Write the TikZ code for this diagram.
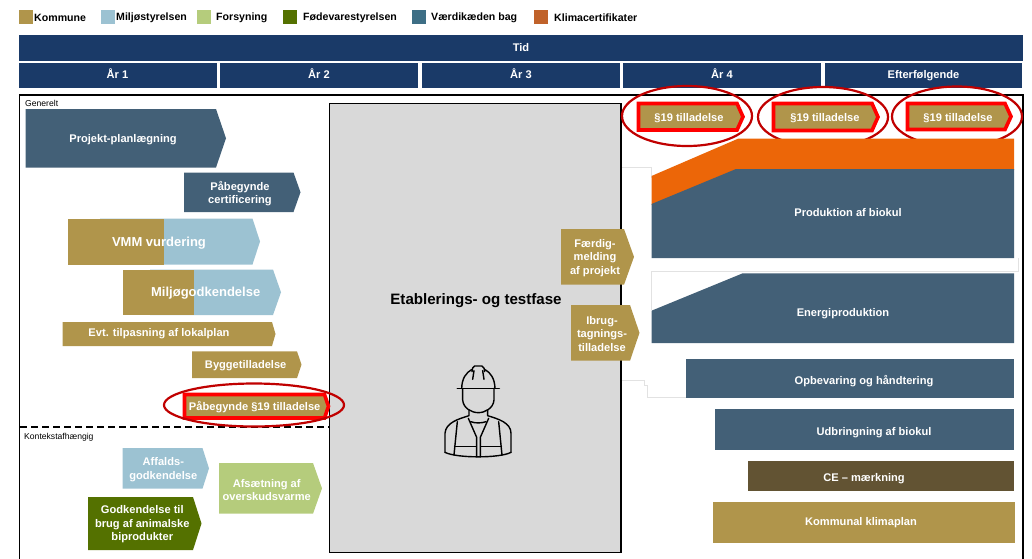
\documentclass[tikz,border=0pt]{standalone}
\usepackage{fontspec}
\setmainfont{Liberation Sans}

\definecolor{navy}{HTML}{1A3A68}
\definecolor{slate}{HTML}{436077}
\definecolor{gold}{HTML}{B0954B}
\definecolor{lightblue}{HTML}{9CC2D2}
\definecolor{lightgreen}{HTML}{B5CC7C}
\definecolor{darkgreen}{HTML}{547100}
\definecolor{teal}{HTML}{3D6E85}
\definecolor{rust}{HTML}{C0622A}
\definecolor{certorange}{HTML}{EC6608}
\definecolor{ceebrown}{HTML}{625333}
\definecolor{ringred}{HTML}{C00000}
\definecolor{faint}{HTML}{E2E2E2}

\tikzset{
  lbl/.style={text=white, font=\fontsize{11.1}{13.4}\selectfont\bfseries, align=center, inner sep=0pt, yshift=-1pt},
  yearlbl/.style={lbl, text height=8pt, text depth=2pt},
  biglbl/.style={lbl, font=\fontsize{13}{15}\selectfont\bfseries},
  smalllbl/.style={text=black, font=\fontsize{8.6}{10}\selectfont, inner sep=0pt, anchor=west},
  legendlbl/.style={text=black, font=\fontsize{10.6}{12}\selectfont\bfseries, inner sep=0pt, anchor=west},
  ring/.style={draw=ringred, line width=2.2pt},
  redline/.style={draw=red, line width=3.6pt, miter limit=3},
  worker/.style={draw=black, line width=1.4pt, line cap=round, line join=round},
}

% x1, x2 = body, #4 = tip, #5 and #6 = top and bottom
\newcommand{\arrowbox}[6]{
  \path[#1] (#2,#5) -- (#3,#5) -- (#4,{(#5+#6)/2}) -- (#3,#6) -- (#2,#6) -- cycle;
}

\begin{document}
\begin{tikzpicture}[x=1pt,y=-1pt]
  \useasboundingbox (0,0) rectangle (1032,558);

  % Legend
  \foreach \i/\col/\xa/\xb/\txt in {kommune/gold/19/34/Kommune, miljo/lightblue/101/116/Miljøstyrelsen,
    forsyning/lightgreen/197/216/Forsyning, fodevare/darkgreen/283/303/Fødevarestyrelsen,
    vaerdi/teal/412/431/Værdikæden bag, klima/rust/534/554/Klimacertifikater} {
    \fill[\col] (\xa,9.5) rectangle ++(14,14);
    \node[legendlbl] (leg\i) at (\xb,17.5) {\txt};
  }

  % Time bars
  \fill[navy] (19,35) rectangle (1023,60.5);
  \node[yearlbl] (tid) at (521,47.5) {Tid};
  \foreach \i/\xa/\xb/\txt in {1/18.5/216.5/År 1, 2/220/418/År 2, 3/422/620/År 3, 4/623/821/År 4, 5/825/1022/Efterfølgende} {
    \fill[navy] (\xa,62.5) rectangle (\xb,88);
    \node[yearlbl] (year\i) at ({(\xa+\xb)/2},74.8) {\txt};
  }

  % Faint lines
  \draw[faint, line width=0.7pt] (622,167) -- (651,167) -- (651,178);
  \draw[faint, line width=0.7pt] (651,310) -- (651,271.5) -- (1018,271.5) -- (1018,258);
  \draw[faint, line width=0.7pt] (622,380.3) -- (644,380.3) -- (644,385) -- (647.5,385) -- (647.5,397) -- (686,397);

  % Draw the box
  \draw[black, line width=1.8pt] (19.5,560) -- (19.5,95) -- (1023,95) -- (1023,560);
  \draw[black, line width=1.7pt, dash pattern=on 7pt off 4pt] (20,427) -- (329,427);
  \node[smalllbl] (generelt) at (25,103) {Generelt};
  \node[smalllbl] (kontekst) at (24,437) {Kontekstafhængig};

  % Middle phase
  \draw[black, line width=1.8pt, fill=black!15] (329.5,103.5) rectangle (621,552.5);
  \node[lbl, text=black, font=\fontsize{15.1}{18}\selectfont\bfseries] (fase) at (476,300) {Etablerings- og testfase};

  % Worker
  \begin{scope}[shift={(400,350)}, x=0.3333pt, y=-0.3333pt]
    \draw[worker] (172,115) -- (298,115);
    \draw[worker] (185,115) .. controls (186,85) and (198,68) .. (216,58);
    \draw[worker] (285,115) .. controls (284,85) and (272,68) .. (254,58);
    \draw[worker] (216,65) -- (218,54) -- (224,48) -- (246,48) -- (252,54) -- (254,65);
    \draw[worker] (222,62) -- (218,88);
    \draw[worker] (248,62) -- (252,88);
    \draw[worker] (188,115) -- (188,150) .. controls (190,175) and (215,188) .. (235,188) .. controls (255,188) and (280,175) .. (282,150) -- (282,115);
    \draw[worker] (207,180) -- (207,197) .. controls (175,207) and (137,218) .. (135,250) -- (135,307);
    \draw[worker] (263,180) -- (263,197) .. controls (295,207) and (333,218) .. (333,250) -- (333,307);
    \draw[worker] (135,307) .. controls (170,325) and (300,325) .. (333,307);
    \draw[worker] (172,215) -- (162,315);
    \draw[worker] (296,215) -- (306,315);
    \draw[worker] (205,205) -- (230,262) -- (230,320);
    \draw[worker] (266,205) -- (241,262) -- (241,320);
    \draw[worker] (212,215) .. controls (225,220) and (245,220) .. (258,215);
    \draw[worker] (164,290) -- (228,290);
    \draw[worker] (243,290) -- (304,290);
  \end{scope}

  % Left column
  \arrowbox{fill=slate}{25.5}{216}{226}{109}{167.5}
  \node[lbl] (projekt) at (123,139) {Projekt-planlægning};

  \arrowbox{fill=slate}{184}{293.5}{300.5}{172.5}{212}
  \node[lbl] (certificering) at (240,192.5) {Påbegynde\\certificering};

  \arrowbox{fill=lightblue}{100}{252.5}{260}{218.5}{264.5}
  \fill[gold] (67.5,218.5) rectangle (164,264.5);
  \node[biglbl] (vmm) at (159,242) {VMM vurdering};

  \arrowbox{fill=lightblue}{150}{273}{281}{269.5}{315}
  \fill[gold] (122.5,269.5) rectangle (194,315);
  \node[biglbl] (miljogodkendelse) at (205.7,292.5) {Miljøgodkendelse};

  \arrowbox{fill=gold}{62.5}{272}{275.5}{322}{346}
  \node[lbl] (lokalplan) at (159,333) {Evt. tilpasning af lokalplan};

  \arrowbox{fill=gold}{192}{297}{301.5}{351.3}{378}
  \node[lbl] (bygge) at (245.7,365) {Byggetilladelse};

  \arrowbox{fill=gold, redline}{184.5}{324.5}{328.5}{394.5}{418}
  \node[lbl] (paabegynde) at (254.7,406) {Påbegynde §19 tilladelse};
  \draw[ring] (254,405) ellipse (90 and 21.5);

  \arrowbox{fill=lightblue}{122.5}{202.5}{209}{448}{488.7}
  \node[lbl] (affald) at (163.3,468.5) {Affalds-\\godkendelse};

  \arrowbox{fill=lightgreen}{219}{313}{322}{463}{513.7}
  \node[lbl] (afsaetning) at (266.7,489) {Afsætning af\\overskudsvarme};

  \arrowbox{fill=darkgreen}{88}{193}{201.5}{497}{550}
  \node[lbl] (animalske) at (142.3,523.5) {Godkendelse til\\brug af animalske\\biprodukter};

  % Permits out of the middle
  \arrowbox{fill=gold}{561}{624}{634}{229}{284.7}
  \node[lbl] (faerdig) at (595,257) {Færdig-\\melding\\af projekt};

  \arrowbox{fill=gold}{571}{630}{639.5}{305}{360.7}
  \node[lbl] (ibrug) at (602,333) {Ibrug-\\tagnings-\\tilladelse};

  % Red permits with rings
  \arrowbox{fill=gold, redline}{638.5}{737}{743}{103.5}{130}
  \node[lbl] (tilladelsea) at (689,116.7) {§19 tilladelse};
  \draw[ring] (687,116) ellipse (65 and 30);

  \arrowbox{fill=gold, redline}{773.5}{872}{878}{103.5}{130.5}
  \node[lbl] (tilladelseb) at (825,117.5) {§19 tilladelse};
  \draw[ring] (823,117) ellipse (65 and 30);

  \arrowbox{fill=gold, redline}{907.5}{1005}{1011}{103.5}{129.5}
  \node[lbl] (tilladelsec) at (958,117) {§19 tilladelse};
  \draw[ring] (957,116.5) ellipse (65 and 30);

  % Value chain
  \fill[certorange] (651.5,176) -- (738,138.7) -- (1014,138.7) -- (1014,170) -- (736,170) -- (651.5,205) -- cycle;
  \fill[slate] (651.5,204) -- (736,169) -- (1014,169) -- (1014,258) -- (651.5,258) -- cycle;
  \node[lbl] (biokul) at (848,211.5) {Produktion af biokul};

  \fill[slate] (651.5,310.7) -- (742.7,273.3) -- (1014,273.3) -- (1014,343) -- (651.5,343) -- cycle;
  \node[lbl] (energi) at (843,313) {Energiproduktion};

  \fill[slate] (685.7,359.3) rectangle (1014,398);
  \node[lbl] (opbevaring) at (864,380.5) {Opbevaring og håndtering};

  \fill[slate] (715,409.3) rectangle (1014,450);
  \node[lbl] (udbringning) at (874,431.5) {Udbringning af biokul};

  \fill[ceebrown] (748,461) rectangle (1013.5,491);
  \node[lbl] (ce) at (864,477.5) {CE – mærkning};

  \fill[gold] (713.3,502.3) rectangle (1014.5,543);
  \node[lbl] (klimaplan) at (861,521.5) {Kommunal klimaplan};
\end{tikzpicture}
\end{document}
